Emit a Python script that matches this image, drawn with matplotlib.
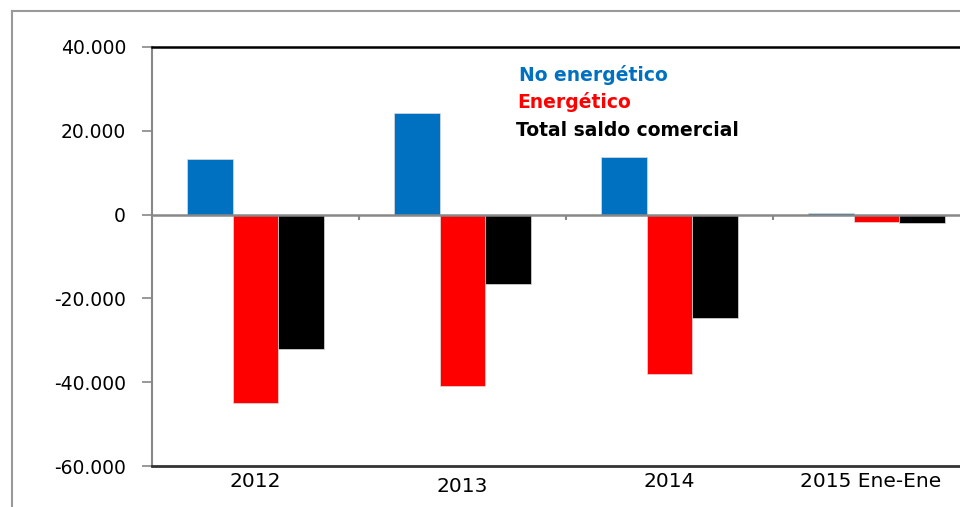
import matplotlib
matplotlib.use('Agg')
import matplotlib.pyplot as plt
from matplotlib.lines import Line2D
from matplotlib.ticker import FuncFormatter
import numpy as np

# datos (millones de euros)
categorias = ['2012', '2013', '2014', '2015 Ene-Ene']
no_energetico = [13300, 24300, 13800, 300]
energetico = [-45000, -40900, -38000, -1800]
total_saldo = [-32100, -16500, -24700, -2100]

series = ['No energético', 'Energético', 'Total saldo comercial']
colores = ['#0070C0', '#FF0000', '#000000']

fig = plt.figure(figsize=(9.6, 5.07), dpi=100)
ax = fig.add_axes([152/960, 1-466/507, (980-152)/960, (466-47)/507])

x = np.arange(len(categorias))
w = 0.221
for i, vals in enumerate([no_energetico, energetico, total_saldo]):
    ax.bar(x + (i-1)*w, vals, width=w, color=colores[i], edgecolor='#dddddd',
           linewidth=0.5, zorder=2)

ax.set_xlim(-0.5, 3.5)
ax.set_ylim(-60000, 40000)
ax.set_yticks(np.arange(-60000, 40001, 20000))
ax.yaxis.set_major_formatter(FuncFormatter(lambda v, p: '{:,.0f}'.format(v).replace(',', '.')))
ax.tick_params(axis='y', length=7.2, width=1.2, color='#888888', labelsize=13.5, pad=11.5)
ax.set_xticks([])

# linea de cero y marcas entre categorias
ax.axhline(0, color='#888888', lw=1.8, zorder=3)
ax.vlines(x[:-1] + 0.5, -1400, 0, color='#888888', lw=1.5, zorder=3)

ax.spines['left'].set_color('#888888')
ax.spines['left'].set_linewidth(1.5)
ax.spines['top'].set_color('black')
ax.spines['top'].set_linewidth(1.8)
ax.spines['bottom'].set_color('#333333')
ax.spines['bottom'].set_linewidth(2)
ax.spines['right'].set_visible(False)

# etiquetas de categoria (2013 algo mas abajo, como en el original)
offs = [-0.036, -0.05, -0.036, -0.036]
xlab = [0, 1, 2, 2.97]
for xi, lab, o in zip(xlab, categorias, offs):
    ax.text(xi, o, lab, transform=ax.get_xaxis_transform(), ha='center', va='center',
            fontsize=14.5, color='black')

# leyenda como texto
ley_y = [75, 102, 130]
ley_x = [519, 517, 516]
for s, c, yy, xx in zip(series, colores, ley_y, ley_x):
    fig.text(xx/960, 1-yy/507, s, color=c, fontsize=13.5, fontweight='bold',
             ha='left', va='center')

# marco exterior
fig.add_artist(Line2D([12/960, 12/960], [0, 1-11/507], color='#999999', lw=1.5))
fig.add_artist(Line2D([12/960, 1], [1-11/507, 1-11/507], color='#999999', lw=1.5))

fig.savefig('out.png', dpi=100)
